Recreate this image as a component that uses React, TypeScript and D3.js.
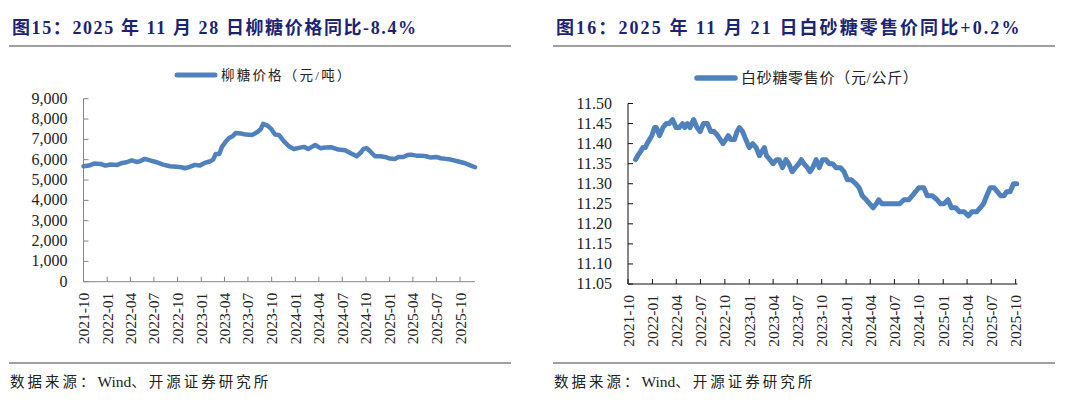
import { useEffect, useRef } from 'react';
import * as d3 from 'd3';

// 柳糖价格 (元/吨)
const liuDates = [
  '2021-10-01', '2021-10-22', '2021-11-11', '2021-12-06', '2021-12-25', '2022-01-14', '2022-02-09',
  '2022-02-28', '2022-03-17', '2022-04-06', '2022-04-25', '2022-05-08', '2022-05-27', '2022-06-16',
  '2022-07-11', '2022-08-06', '2022-09-01', '2022-09-27', '2022-10-16', '2022-10-29', '2022-11-17',
  '2022-12-07', '2022-12-26', '2023-01-14', '2023-02-03', '2023-02-16', '2023-02-26', '2023-03-12',
  '2023-03-22', '2023-04-07', '2023-04-19', '2023-05-02', '2023-05-15', '2023-06-04', '2023-06-23',
  '2023-07-18', '2023-08-07', '2023-08-20', '2023-08-29', '2023-09-15', '2023-09-28', '2023-10-14',
  '2023-10-29', '2023-11-18', '2023-12-07', '2023-12-26', '2024-01-15', '2024-02-04', '2024-02-20',
  '2024-03-05', '2024-03-18', '2024-04-07', '2024-04-26', '2024-05-21', '2024-06-16', '2024-07-12',
  '2024-08-01', '2024-08-26', '2024-09-12', '2024-09-21', '2024-10-04', '2024-10-17', '2024-11-05',
  '2024-11-25', '2024-12-14', '2025-01-02', '2025-01-22', '2025-02-04', '2025-02-23', '2025-03-12',
  '2025-03-25', '2025-04-14', '2025-05-02', '2025-05-22', '2025-06-10', '2025-06-30', '2025-07-18',
  '2025-08-07', '2025-08-26', '2025-09-21', '2025-10-17', '2025-11-05', '2025-11-28',
];
const liuValues = [
  5680, 5710, 5810, 5790, 5710, 5760, 5745,
  5840, 5875, 5970, 5890, 5920, 6040, 5970,
  5875, 5760, 5680, 5650, 5630, 5580, 5650,
  5745, 5710, 5840, 5910, 6005, 6285, 6285,
  6630, 6905, 7070, 7150, 7315, 7285, 7235,
  7220, 7365, 7510, 7760, 7675, 7530, 7235,
  7220, 6905, 6660, 6530, 6580, 6630, 6530,
  6630, 6725, 6565, 6600, 6610, 6500, 6465,
  6335, 6170, 6365, 6530, 6565, 6415, 6170,
  6170, 6135, 6055, 6040, 6135, 6135, 6235,
  6250, 6200, 6200, 6170, 6105, 6135, 6070,
  6040, 6005, 5925, 5840, 5745, 5630,
];

// 白砂糖零售价 (元/公斤)
const baiDates = [
  '2021-10-29', '2021-11-07', '2021-11-17', '2021-11-26', '2021-12-05', '2021-12-12', '2021-12-21',
  '2021-12-30', '2022-01-09', '2022-01-16', '2022-01-28', '2022-02-10', '2022-02-22', '2022-03-05',
  '2022-03-18', '2022-03-31', '2022-04-12', '2022-04-25', '2022-05-03', '2022-05-13', '2022-05-23',
  '2022-06-05', '2022-06-18', '2022-06-30', '2022-07-12', '2022-07-27', '2022-08-09', '2022-08-22',
  '2022-09-04', '2022-09-14', '2022-09-24', '2022-10-05', '2022-10-14', '2022-10-24', '2022-11-06',
  '2022-11-16', '2022-11-25', '2022-12-07', '2022-12-19', '2023-01-01', '2023-01-14', '2023-01-27',
  '2023-02-08', '2023-02-17', '2023-02-27', '2023-03-07', '2023-03-20', '2023-04-01', '2023-04-14',
  '2023-04-24', '2023-05-06', '2023-05-19', '2023-05-30', '2023-06-12', '2023-06-24', '2023-07-07',
  '2023-07-16', '2023-07-26', '2023-08-08', '2023-08-18', '2023-08-28', '2023-09-10', '2023-09-22',
  '2023-10-04', '2023-10-17', '2023-10-29', '2023-11-11', '2023-11-24', '2023-12-11', '2023-12-24',
  '2024-01-06', '2024-01-21', '2024-02-06', '2024-02-19', '2024-03-02', '2024-03-17', '2024-03-30',
  '2024-04-12', '2024-04-24', '2024-05-03', '2024-05-15', '2024-06-04', '2024-06-29', '2024-07-21',
  '2024-08-06', '2024-08-24', '2024-09-06', '2024-09-19', '2024-10-01', '2024-10-20', '2024-11-02',
  '2024-11-21', '2024-12-09', '2024-12-22', '2025-01-04', '2025-01-19', '2025-02-01', '2025-02-17',
  '2025-03-03', '2025-03-21', '2025-04-06', '2025-04-19', '2025-05-07', '2025-05-20', '2025-06-02',
  '2025-06-14', '2025-06-27', '2025-07-12', '2025-07-24', '2025-08-06', '2025-08-18', '2025-08-28',
  '2025-09-10', '2025-09-23', '2025-10-05',
];
const baiValues = [
  11.36, 11.37, 11.38, 11.39, 11.39, 11.40, 11.41,
  11.42, 11.44, 11.44, 11.42, 11.44, 11.45, 11.45,
  11.46, 11.44, 11.44, 11.45, 11.44, 11.45, 11.44,
  11.46, 11.44, 11.43, 11.45, 11.45, 11.43, 11.43,
  11.42, 11.41, 11.40, 11.41, 11.42, 11.41, 11.41,
  11.43, 11.44, 11.43, 11.41, 11.39, 11.40, 11.39,
  11.37, 11.38, 11.39, 11.37, 11.36, 11.35, 11.36,
  11.36, 11.34, 11.36, 11.35, 11.33, 11.34, 11.35,
  11.36, 11.35, 11.34, 11.33, 11.34, 11.36, 11.34,
  11.36, 11.36, 11.35, 11.35, 11.34, 11.34, 11.33,
  11.31, 11.31, 11.30, 11.29, 11.27, 11.26, 11.25,
  11.24, 11.25, 11.26, 11.25, 11.25, 11.25, 11.25,
  11.26, 11.26, 11.27, 11.28, 11.29, 11.29, 11.27,
  11.27, 11.26, 11.25, 11.25, 11.26, 11.24, 11.24,
  11.23, 11.23, 11.22, 11.23, 11.23, 11.24, 11.25,
  11.27, 11.29, 11.29, 11.28, 11.27, 11.27, 11.28,
  11.28, 11.30, 11.30,
];

const xTickLabels = [
  '2021-10', '2022-01', '2022-04', '2022-07', '2022-10', '2023-01', '2023-04', '2023-07', '2023-10',
  '2024-01', '2024-04', '2024-07', '2024-10', '2025-01', '2025-04', '2025-07', '2025-10',
];
const liuTicks = [0, 1000, 2000, 3000, 4000, 5000, 6000, 7000, 8000, 9000];
const baiTicks = [11.05, 11.1, 11.15, 11.2, 11.25, 11.3, 11.35, 11.4, 11.45, 11.5];

const serif = '"Liberation Serif", "Times New Roman", "Noto Sans CJK SC", serif';
const blue = '#4f81bd';
const parse = d3.timeParse('%Y-%m-%d');
const parseMonth = d3.timeParse('%Y-%m');

export default function App() {
  const svgRef = useRef<SVGSVGElement>(null);

  useEffect(() => {
    if (!svgRef.current) return;
    const svg = d3.select(svgRef.current);
    svg.selectAll('*').remove();

    function panel(opts: any) {
      const { ox, title, titleSpacing, legend, legendSize, legendSpacing, dates, values, yTicks, yFmt,
        xDomain, xRange, yDomain, yRange, axisColor, lineWidth, legendY } = opts;
      const g = svg.append('g');

      g.append('text')
        .attr('x', ox + 3).attr('y', 34)
        .attr('font-family', serif).attr('font-size', 18).attr('font-weight', 'bold')
        .attr('letter-spacing', titleSpacing)
        .attr('fill', '#1b2473')
        .text(title);
      g.append('line')
        .attr('x1', ox).attr('x2', ox + 502).attr('y1', 46).attr('y2', 46)
        .attr('stroke', '#404040').attr('stroke-width', 1.2);

      const x = d3.scaleTime().domain(xDomain.map((d: string) => parse(d))).range(xRange);
      const y = d3.scaleLinear().domain(yDomain).range(yRange);

      // legend
      const lg = g.append('g');
      const legX = opts.legendX;
      lg.append('line')
        .attr('x1', legX).attr('x2', legX + 38).attr('y1', legendY).attr('y2', legendY)
        .attr('stroke', blue).attr('stroke-width', lineWidth + 0.5).attr('stroke-linecap', 'round');
      lg.append('text')
        .attr('x', legX + 44).attr('y', legendY + legendSize * 0.36)
        .attr('font-family', serif).attr('font-size', legendSize).attr('fill', '#222')
        .attr('letter-spacing', legendSpacing)
        .text(legend);

      // y axis
      g.append('line')
        .attr('x1', xRange[0]).attr('x2', xRange[0]).attr('y1', yRange[0]).attr('y2', yRange[1])
        .attr('stroke', axisColor).attr('stroke-width', 1);
      g.selectAll('.ytick').data(yTicks).enter().append('line')
        .attr('x1', xRange[0]).attr('x2', xRange[0] + 5)
        .attr('y1', (d: number) => y(d)).attr('y2', (d: number) => y(d))
        .attr('stroke', axisColor);
      g.selectAll('.ylab').data(yTicks).enter().append('text')
        .attr('x', xRange[0] - 16).attr('y', (d: number) => y(d) + 5)
        .attr('text-anchor', 'end')
        .attr('font-family', serif).attr('font-size', 16).attr('fill', '#222')
        .text((d: number) => yFmt(d));

      // x axis
      g.append('line')
        .attr('x1', xRange[0]).attr('x2', xRange[1]).attr('y1', yRange[0]).attr('y2', yRange[0])
        .attr('stroke', axisColor).attr('stroke-width', 1);
      const tickDates = xTickLabels.map((s) => parseMonth(s) as Date);
      g.selectAll('.xtick').data(tickDates).enter().append('line')
        .attr('x1', (d: Date) => x(d)).attr('x2', (d: Date) => x(d))
        .attr('y1', yRange[0]).attr('y2', yRange[0] - 5)
        .attr('stroke', axisColor);
      g.selectAll('.xlab').data(xTickLabels).enter().append('text')
        .attr('transform', (d: string) => `translate(${x(parseMonth(d) as Date) + 5.5},${yRange[0] + 11}) rotate(-90)`)
        .attr('text-anchor', 'end')
        .attr('font-family', serif).attr('font-size', 15.5).attr('fill', '#222')
        .text((d: string) => d);

      const pts = dates.map((d: string, i: number) => [parse(d) as Date, values[i]] as [Date, number]);
      const line = d3.line<[Date, number]>().x((d) => x(d[0])).y((d) => y(d[1]));
      g.append('path')
        .attr('d', line(pts) as string)
        .attr('fill', 'none').attr('stroke', blue).attr('stroke-width', lineWidth)
        .attr('stroke-linejoin', 'round').attr('stroke-linecap', 'round');

      g.append('line')
        .attr('x1', ox).attr('x2', ox + 502).attr('y1', 363).attr('y2', 363)
        .attr('stroke', '#404040').attr('stroke-width', 1.2);
      const src = g.append('text')
        .attr('x', ox + 1).attr('y', 387)
        .attr('font-family', serif).attr('font-size', 14.5).attr('fill', '#222');
      src.append('tspan').attr('letter-spacing', 3).text('数据来源：');
      src.append('tspan').attr('font-size', 15.5).text('Wind');
      src.append('tspan').attr('letter-spacing', 3).text('、开源证券研究所');
    }

    panel({
      ox: 9,
      title: '图15：2025 年 11 月 28 日柳糖价格同比-8.4%', titleSpacing: 1.6,
      legend: '柳糖价格（元/吨）', legendSize: 13.5, legendSpacing: 2.2, legendX: 177, legendY: 75,
      dates: liuDates, values: liuValues,
      yTicks: liuTicks, yFmt: d3.format(','),
      xDomain: ['2021-10-01', '2025-11-28'], xRange: [83.5, 475],
      yDomain: [0, 9000], yRange: [281.7, 98.7],
      axisColor: '#868686', lineWidth: 4.5,
    });
    panel({
      ox: 553,
      title: '图16：2025 年 11 月 21 日白砂糖零售价同比+0.2%', titleSpacing: 2.1,
      legend: '白砂糖零售价（元/公斤）', legendSize: 15, legendSpacing: 0.7, legendX: 697, legendY: 78,
      dates: baiDates, values: baiValues,
      yTicks: baiTicks, yFmt: d3.format('.2f'),
      xDomain: ['2021-10-01', '2025-10-08'], xRange: [628, 1017.5],
      yDomain: [11.05, 11.5], yRange: [284, 103.5],
      axisColor: '#111', lineWidth: 5,
    });
  }, []);

  return (
    <svg
      ref={svgRef}
      width={1080}
      height={412}
      style={{ position: 'absolute', left: 0, top: 0, background: '#fff' }}
    />
  );
}
